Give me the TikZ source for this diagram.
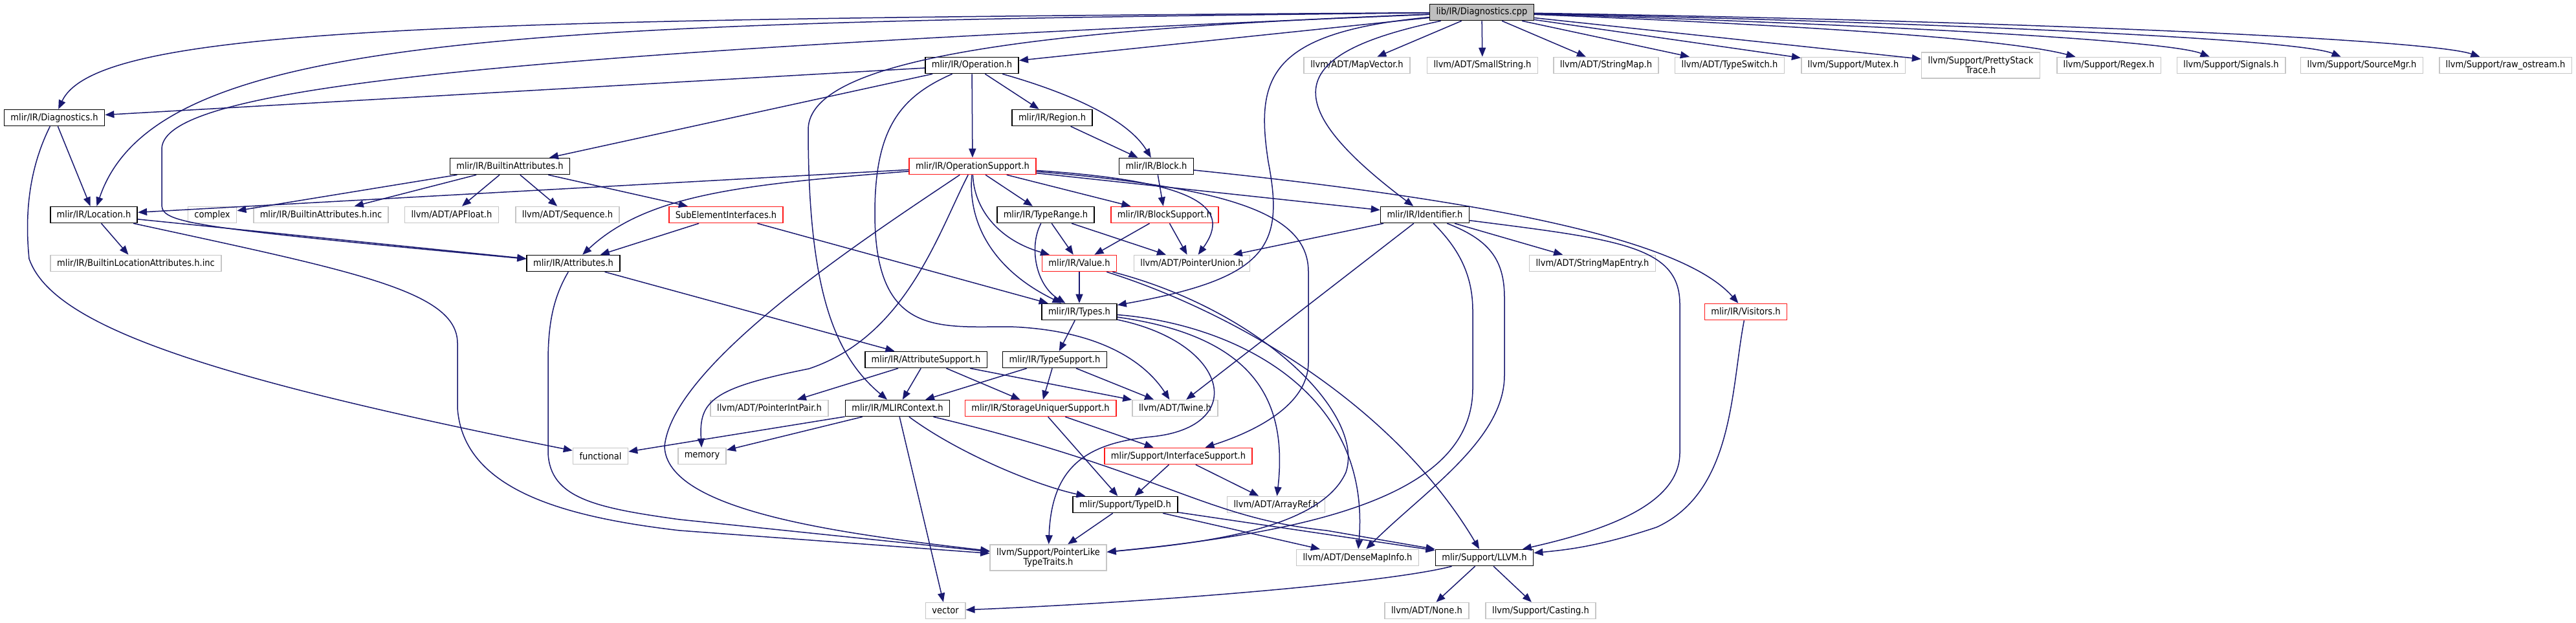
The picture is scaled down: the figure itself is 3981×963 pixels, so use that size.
\documentclass[tikz,border=0pt]{standalone}
\usepackage{fontspec}
\setmainfont{DejaVu Sans Condensed}
\usepackage{xcolor}
\usepackage{tikz}
\usetikzlibrary{arrows.meta}
\definecolor{navy}{RGB}{25,25,112}
\tikzset{
  hdr/.style={draw=black,line width=1.6pt,fill=white,minimum height=25pt,inner xsep=10pt,inner ysep=2pt,align=center,
    font=\fontsize{14.5}{15}\selectfont},
  ext/.style={hdr,draw=gray!45},
  redhdr/.style={hdr,draw=red!90},
  roothdr/.style={hdr,fill=gray!50},
  dep/.style={draw=navy,line width=1.5pt,-{Triangle[length=14pt,width=11pt]}}
}

\begin{document}
\begin{tikzpicture}[x=1pt,y=-1pt]
\useasboundingbox (0,0) rectangle (3981,963);
\node[roothdr] (root) at (2290,19) {lib/IR/Diagnostics.cpp};
\node[hdr] (oper) at (1502,101) {mlir/IR/Operation.h};
\node[ext] (mapvec) at (2097,101) {llvm/ADT/MapVector.h};
\node[ext] (smallstr) at (2291,101) {llvm/ADT/SmallString.h};
\node[ext] (strmap) at (2482,101) {llvm/ADT/StringMap.h};
\node[ext] (tswitch) at (2673,101) {llvm/ADT/TypeSwitch.h};
\node[ext] (mutex) at (2864,101) {llvm/Support/Mutex.h};
\node[ext,minimum height=40pt] (pstack) at (3061,101) {llvm/Support/PrettyStack\\Trace.h};
\node[ext] (regex) at (3259,101) {llvm/Support/Regex.h};
\node[ext] (signals) at (3448,101) {llvm/Support/Signals.h};
\node[ext] (srcmgr) at (3650,101) {llvm/Support/SourceMgr.h};
\node[ext] (rawos) at (3872,101) {llvm/Support/raw\_ostream.h};
\node[hdr] (diag) at (84,182) {mlir/IR/Diagnostics.h};
\node[hdr] (region) at (1626,182) {mlir/IR/Region.h};
\node[hdr] (battr) at (788,257) {mlir/IR/BuiltinAttributes.h};
\node[redhdr] (opsup) at (1503,257) {mlir/IR/OperationSupport.h};
\node[hdr] (block) at (1787,257) {mlir/IR/Block.h};
\node[hdr] (loc) at (145,332) {mlir/IR/Location.h};
\node[ext] (complex) at (328,332) {complex};
\node[ext] (battrinc) at (496,332) {mlir/IR/BuiltinAttributes.h.inc};
\node[ext] (apfloat) at (698,332) {llvm/ADT/APFloat.h};
\node[ext] (sequence) at (877,332) {llvm/ADT/Sequence.h};
\node[redhdr] (subel) at (1122,332) {SubElementInterfaces.h};
\node[hdr] (trange) at (1616,332) {mlir/IR/TypeRange.h};
\node[redhdr] (bsup) at (1800,332) {mlir/IR/BlockSupport.h};
\node[hdr] (ident) at (2202,332) {mlir/IR/Identifier.h};
\node[ext] (blocattr) at (210,407) {mlir/IR/BuiltinLocationAttributes.h.inc};
\node[hdr] (attrs) at (886,407) {mlir/IR/Attributes.h};
\node[redhdr] (value) at (1668,407) {mlir/IR/Value.h};
\node[ext] (punion) at (1842,407) {llvm/ADT/PointerUnion.h};
\node[ext] (smentry) at (2461,407) {llvm/ADT/StringMapEntry.h};
\node[hdr] (types) at (1668,482) {mlir/IR/Types.h};
\node[redhdr] (visitors) at (2698,482) {mlir/IR/Visitors.h};
\node[hdr] (attrsup) at (1431,556) {mlir/IR/AttributeSupport.h};
\node[hdr] (tsup) at (1630,556) {mlir/IR/TypeSupport.h};
\node[ext] (pip) at (1189,631) {llvm/ADT/PointerIntPair.h};
\node[hdr] (mlirctx) at (1387,631) {mlir/IR/MLIRContext.h};
\node[redhdr] (storage) at (1608,631) {mlir/IR/StorageUniquerSupport.h};
\node[ext] (twine) at (1816,631) {llvm/ADT/Twine.h};
\node[ext] (functional) at (928,705) {functional};
\node[ext] (memory) at (1085,705) {memory};
\node[redhdr] (ifsup) at (1821,705) {mlir/Support/InterfaceSupport.h};
\node[hdr] (typeid) at (1739,780) {mlir/Support/TypeID.h};
\node[ext] (arrayref) at (1972,780) {llvm/ADT/ArrayRef.h};
\node[ext,minimum height=40pt] (pltt) at (1620,862) {llvm/Support/PointerLike\\TypeTraits.h};
\node[ext] (densemap) at (2098,862) {llvm/ADT/DenseMapInfo.h};
\node[hdr] (llvmh) at (2294,862) {mlir/Support/LLVM.h};
\node[ext] (vector) at (1461,944) {vector};
\node[ext] (none) at (2205,944) {llvm/ADT/None.h};
\node[ext] (casting) at (2381,944) {llvm/Support/Casting.h};

\draw[dep] (root) .. controls (700,30) and (150,40) .. (diag);
\draw[dep] (root) .. controls (800,35) and (240,50) .. (loc);
\draw[dep] (root) .. controls (700,85) and (252,140) .. (250,230) -- (250,318) .. controls (252,345) and (300,352) .. (attrs);
\draw[dep] (root) -- (oper);
\draw[dep] (root) .. controls (1600,45) and (1250,90) .. (1249,200) .. controls (1249,450) and (1290,550) .. (mlirctx);
\draw[dep] (root) .. controls (1960,50) and (1940,120) .. (1960,250) .. controls (1985,380) and (1960,430) .. (types);
\draw[dep] (root) .. controls (2000,80) and (1960,150) .. (ident);
\foreach \t in {mapvec,smallstr,strmap,tswitch,mutex,pstack} \draw[dep] (root) -- (\t);
\draw[dep] (root) .. controls (2800,40) and (3100,60) .. (regex);
\draw[dep] (root) .. controls (2900,38) and (3350,62) .. (signals);
\draw[dep] (root) .. controls (3000,35) and (3550,60) .. (srcmgr);
\draw[dep] (root) .. controls (3100,32) and (3750,60) .. (rawos);

\foreach \t in {diag,battr,opsup,region} \draw[dep] (oper) -- (\t);
\draw[dep] (oper) .. controls (1640,140) and (1740,180) .. (block);
\draw[dep] (oper) .. controls (1390,150) and (1352,200) .. (1352,330) .. controls (1352,520) and (1450,505) .. (1560,505) .. controls (1700,510) and (1770,560) .. (twine);
\draw[dep] (diag) -- (loc);
\draw[dep] (diag) .. controls (45,260) and (38,330) .. (45,400) .. controls (80,500) and (300,580) .. (functional);
\draw[dep] (region) -- (block);
\draw[dep] (block) -- (bsup);
\draw[dep] (block) .. controls (2300,310) and (2600,370) .. (visitors);
\draw[dep] (visitors) .. controls (2675,600) and (2680,760) .. (2560,815) .. controls (2470,845) and (2420,850) .. (llvmh);

\foreach \t in {complex,battrinc,apfloat,sequence,subel} \draw[dep] (battr) -- (\t);
\draw[dep] (loc) -- (blocattr);
\draw[dep] (loc) -- (attrs);
\draw[dep] (loc) .. controls (550,420) and (706,450) .. (707,530) -- (707,630) .. controls (715,760) and (880,800) .. (1050,820) -- (pltt);
\draw[dep] (attrs) -- (attrsup);
\draw[dep] (attrs) .. controls (855,460) and (847,500) .. (847,560) -- (847,700) .. controls (850,770) and (920,785) .. (1050,803) -- (pltt);
\draw[dep] (subel) -- (attrs);
\draw[dep] (subel) -- (types);

\draw[dep] (opsup) -- (loc);
\draw[dep] (opsup) .. controls (1150,285) and (1000,300) .. (attrs);
\draw[dep] (opsup) -- (trange);
\draw[dep] (opsup) -- (bsup);
\draw[dep] (opsup) .. controls (1495,350) and (1540,420) .. (types);
\draw[dep] (opsup) .. controls (1505,320) and (1540,370) .. (value);
\draw[dep] (opsup) .. controls (1850,280) and (1905,320) .. (punion);
\draw[dep] (opsup) -- (ident);
\draw[dep] (opsup) .. controls (1900,290) and (2022,330) .. (2022,420) -- (2022,560) .. controls (2022,630) and (1930,670) .. (ifsup);
\draw[dep] (opsup) .. controls (1450,360) and (1400,520) .. (1250,570) .. controls (1100,600) and (1080,620) .. (memory);
\draw[dep] (opsup) .. controls (1350,360) and (1040,560) .. (1027,690) .. controls (1030,790) and (1300,825) .. (pltt);

\draw[dep] (trange) -- (value);
\draw[dep] (trange) -- (punion);
\draw[dep] (trange) .. controls (1590,380) and (1600,440) .. (types);
\draw[dep] (bsup) -- (value);
\draw[dep] (bsup) -- (punion);
\draw[dep] (value) -- (types);
\draw[dep] (value) .. controls (1900,480) and (2150,620) .. (llvmh);
\draw[dep] (value) .. controls (1950,480) and (2110,640) .. (2080,730) .. controls (2040,820) and (1850,840) .. (pltt);

\draw[dep] (ident) -- (punion);
\draw[dep] (ident) -- (twine);
\draw[dep] (ident) -- (smentry);
\draw[dep] (ident) .. controls (2500,370) and (2596,380) .. (2596,470) -- (2596,700) .. controls (2596,780) and (2480,820) .. (llvmh);
\draw[dep] (ident) .. controls (2250,380) and (2276,420) .. (2276,480) -- (2276,600) .. controls (2276,760) and (2050,820) .. (pltt);
\draw[dep] (ident) .. controls (2300,370) and (2325,400) .. (2325,460) -- (2325,580) .. controls (2325,680) and (2200,760) .. (densemap);

\draw[dep] (types) -- (tsup);
\draw[dep] (types) .. controls (1900,530) and (1930,660) .. (1780,675) .. controls (1680,685) and (1625,720) .. (pltt);
\draw[dep] (types) .. controls (1940,520) and (1990,620) .. (arrayref);
\draw[dep] (types) .. controls (1900,500) and (2120,600) .. (densemap);

\foreach \t in {pip,mlirctx,storage,twine} \draw[dep] (attrsup) -- (\t);
\foreach \t in {mlirctx,storage,twine} \draw[dep] (tsup) -- (\t);
\foreach \t in {memory,functional,vector} \draw[dep] (mlirctx) -- (\t);
\draw[dep] (mlirctx) .. controls (1480,700) and (1600,750) .. (typeid);
\draw[dep] (mlirctx) .. controls (1800,730) and (1860,800) .. (2050,820) -- (llvmh);
\draw[dep] (storage) -- (typeid);
\draw[dep] (storage) -- (ifsup);
\draw[dep] (ifsup) -- (typeid);
\draw[dep] (ifsup) -- (arrayref);
\foreach \t in {pltt,densemap,llvmh} \draw[dep] (typeid) -- (\t);
\draw[dep] (llvmh) -- (none);
\draw[dep] (llvmh) -- (casting);
\draw[dep] (llvmh) .. controls (2150,900) and (1800,930) .. (vector);
\end{tikzpicture}
\end{document}
